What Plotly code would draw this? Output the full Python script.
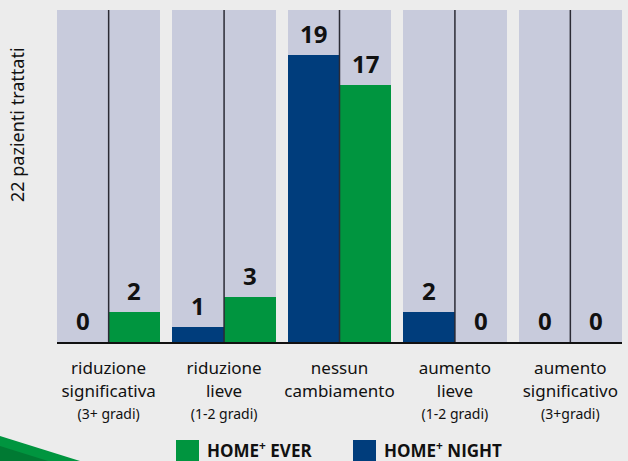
import plotly.graph_objects as go

categories = ["riduzione<br>significativa", "riduzione<br>lieve", "nessun<br>cambiamento",
              "aumento<br>lieve", "aumento<br>significativo"]
subtitles = ["(3+ gradi)", "(1-2 gradi)", "", "(1-2 gradi)", "(3+gradi)"]
night = [0, 1, 19, 2, 0]
ever = [2, 3, 17, 0, 0]
total = 22

NAVY = "#003d7c"
GREEN = "#00953f"
GRAYBAR = "#c8cbdc"
BG = "#ececec"

x = list(range(len(categories)))
gw = 0.895
bw = gw / 2

W, H = 628, 461
pl, pr, pt, pb = 57, 6, 10, 119
pw, ph = W - pl - pr, H - pt - pb


def px(xp):
    return (xp - pl) / pw


def py(yp):
    return (H - pb - yp) / ph


fig = go.Figure()
fig.add_trace(go.Bar(x=x, y=[total] * len(x), width=gw, marker_color=GRAYBAR,
                     marker_line_width=0, showlegend=False, hoverinfo="skip"))
fig.add_trace(go.Bar(x=x, y=night, width=bw, offset=-bw, marker_color=NAVY,
                     marker_line_width=0, name="HOME+ NIGHT", showlegend=False))
fig.add_trace(go.Bar(x=x, y=ever, width=bw, offset=0, marker_color=GREEN,
                     marker_line_width=0, name="HOME+ EVER", showlegend=False))

# dividers
for i in x:
    fig.add_shape(type="line", xref="x", yref="y", x0=i, x1=i, y0=0, y1=total,
                  line=dict(color="#2b2b35", width=1.5), layer="above")

# value labels
for i in x:
    for v, dx in ((night[i], -bw / 2), (ever[i], bw / 2)):
        fig.add_annotation(x=i + dx, y=v, xref="x", yref="y", text=f"<b>{v}</b>",
                           showarrow=False, yanchor="bottom", yshift=3,
                           font=dict(family="Open Sans", size=24, color="#111"))

ticktext = []
for c, s in zip(categories, subtitles):
    t = c
    if s:
        t += f"<br><span style='font-size:14px'>{s}</span>"
    ticktext.append(t)

# green corner decoration
fig.add_shape(type="path", xref="paper", yref="paper",
              path=f"M {px(0)} {py(436)} L {px(80)} {py(461)} L {px(0)} {py(461)} Z",
              fillcolor=GREEN, line_width=0, layer="below")
fig.add_shape(type="path", xref="paper", yref="paper",
              path=f"M {px(0)} {py(446)} L {px(48)} {py(461)} L {px(0)} {py(461)} Z",
              fillcolor="#007a33", line_width=0, layer="below")

# legend (manual)
legend_items = [("HOME<sup>+</sup> EVER", GREEN, 176), ("HOME<sup>+</sup> NIGHT", NAVY, 353)]
for label, col, x0 in legend_items:
    fig.add_shape(type="rect", xref="paper", yref="paper",
                  x0=px(x0), x1=px(x0 + 23), y0=py(463), y1=py(440),
                  fillcolor=col, line_width=0)
    fig.add_annotation(xref="paper", yref="paper", x=px(x0 + 29), y=py(449),
                       text=f"<b>{label}</b>", showarrow=False, xanchor="left",
                       yanchor="middle",
                       font=dict(family="Open Sans", size=17, color="#111"))

fig.add_annotation(xref="paper", yref="paper", x=px(17), y=py(125),
                   text="22 pazienti trattati", textangle=-90, showarrow=False,
                   xanchor="center", yanchor="middle",
                   font=dict(family="Noto Sans", size=18, color="#111"))

fig.update_layout(
    width=W, height=H,
    margin=dict(l=pl, r=pr, t=pt, b=pb, autoexpand=False),
    paper_bgcolor=BG, plot_bgcolor=BG,
    barmode="overlay",
    bargap=0,
    showlegend=False,
    xaxis=dict(range=[-gw / 2, len(x) - 1 + gw / 2], tickvals=x, ticktext=ticktext,
               showgrid=False, zeroline=False, showline=True, linecolor="#111", linewidth=2,
               ticks="", ticklabelstandoff=10, automargin=False,
               tickfont=dict(family="Noto Sans", size=17, color="#111"), fixedrange=True),
    yaxis=dict(range=[0, total], showticklabels=False, showgrid=False, zeroline=False,
               showline=False, fixedrange=True, automargin=False),
)

fig.write_html("out.html", config={"displayModeBar": False},
               post_script="document.body.style.margin='0';document.body.style.background='#ececec';")
